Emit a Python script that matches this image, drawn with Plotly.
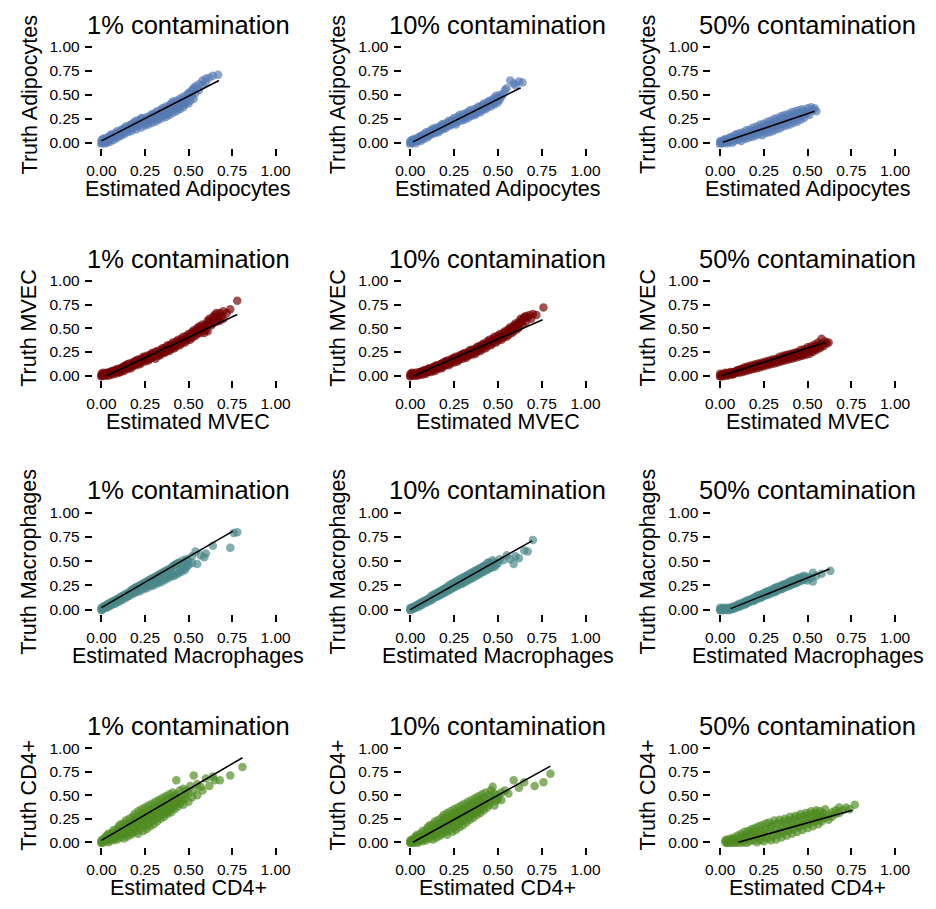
import plotly.graph_objects as go

# ---------------- data ----------------
row_cells = ["Adipocytes", "MVEC", "Macrophages", "CD4+"]
col_levels = ["1%", "10%", "50%"]
tick_vals = [0, 0.25, 0.5, 0.75, 1.0]
tick_text = ["0.00", "0.25", "0.50", "0.75", "1.00"]

# each list: (estimated, truth) points
adipo_1 = [(0,0),(0,.03),(0,-.02),(.01,.01),(.01,.04),(.02,-.01),(.02,.02),(.02,.05),(.03,.03),(.03,0),(.04,.06),(.04,.02),(.05,.04),(.05,.08),(.05,.01),(.06,.05),(.06,.09),(.07,.03),(.07,.07),(.08,.10),(.08,.06),(.09,.05),(.09,.09),(.09,.12),(.10,.08),(.10,.11),(.11,.13),(.11,.07),(.12,.10),(.12,.14),(.13,.09),(.13,.15),(.13,.12),(.14,.13),(.14,.17),(.15,.11),(.15,.16),(.16,.18),(.16,.14),(.17,.12),(.17,.19),(.17,.16),(.18,.15),(.18,.20),(.19,.17),(.19,.22),(.20,.14),(.20,.19),(.20,.23),(.21,.21),(.21,.17),(.22,.24),(.22,.19),(.23,.16),(.23,.22),(.23,.26),(.24,.20),(.24,.25),(.25,.23),(.25,.18),(.26,.27),(.26,.21),(.26,.24),(.27,.19),(.27,.25),(.28,.28),(.28,.23),(.29,.21),(.29,.26),(.29,.30),(.30,.24),(.30,.29),(.31,.31),(.31,.22),(.32,.27),(.32,.33),(.32,.25),(.33,.24),(.33,.30),(.34,.34),(.34,.28),(.35,.26),(.35,.31),(.35,.36),(.36,.29),(.36,.35),(.37,.38),(.37,.27),(.38,.32),(.38,.36),(.38,.30),(.39,.29),(.39,.39),(.40,.34),(.40,.41),(.41,.31),(.41,.37),(.41,.43),(.42,.35),(.42,.40),(.43,.44),(.43,.33),(.44,.38),(.44,.42),(.44,.36),(.45,.46),(.45,.35),(.46,.40),(.46,.44),(.47,.37),(.47,.48),(.47,.42),(.48,.45),(.48,.40),(.49,.50),(.49,.43),(.50,.47),(.50,.41),(.50,.52),(.51,.44),(.51,.53),(.52,.49),(.52,.55),(.53,.46),(.53,.57),(.54,.52),(.54,.59),(.56,.55),(.56,.61),(.58,.60),(.58,.65),(.60,.63),(.60,.67),(.62,.68),(.64,.70),(.67,.71)]
adipo_10 = [(0,0),(0,.02),(0,-.02),(.01,.03),(.01,0),(.02,.01),(.02,.04),(.03,-.01),(.03,.03),(.04,.05),(.04,.02),(.05,.03),(.05,.06),(.06,.02),(.06,.07),(.07,.05),(.07,.08),(.08,.04),(.08,.09),(.09,.07),(.09,.11),(.10,.06),(.10,.10),(.11,.12),(.11,.08),(.12,.09),(.12,.13),(.13,.11),(.13,.15),(.14,.10),(.14,.14),(.15,.12),(.15,.16),(.16,.11),(.16,.15),(.17,.17),(.17,.13),(.18,.14),(.18,.19),(.19,.16),(.19,.20),(.20,.15),(.20,.18),(.21,.21),(.21,.17),(.22,.19),(.22,.23),(.23,.18),(.23,.22),(.24,.24),(.24,.20),(.25,.21),(.25,.26),(.26,.23),(.26,.19),(.27,.27),(.27,.22),(.28,.25),(.28,.29),(.29,.23),(.29,.27),(.30,.30),(.30,.25),(.31,.28),(.31,.24),(.32,.31),(.32,.27),(.33,.26),(.33,.32),(.34,.29),(.34,.34),(.35,.28),(.35,.32),(.36,.35),(.36,.30),(.37,.33),(.37,.29),(.38,.36),(.38,.31),(.39,.34),(.39,.38),(.40,.32),(.40,.37),(.41,.39),(.41,.34),(.42,.36),(.42,.41),(.43,.35),(.43,.39),(.44,.42),(.44,.37),(.45,.40),(.45,.44),(.46,.38),(.46,.43),(.47,.45),(.47,.41),(.48,.40),(.48,.47),(.49,.44),(.49,.49),(.50,.42),(.50,.47),(.51,.50),(.51,.45),(.52,.48),(.53,.51),(.54,.55),(.55,.57),(.57,.65),(.59,.62),(.60,.60),(.62,.64),(.64,.63)]
adipo_50 = [(0,0),(0,.02),(0,-.02),(.01,.01),(.01,-.01),(.02,.03),(.02,0),(.03,.01),(.03,.04),(.04,-.01),(.04,.02),(.05,.05),(.05,.01),(.06,.03),(.06,.06),(.07,0),(.07,.04),(.08,.07),(.08,.02),(.09,.05),(.09,.09),(.10,.03),(.10,.07),(.11,.10),(.11,.05),(.12,.02),(.12,.08),(.13,.11),(.13,.06),(.14,.04),(.14,.09),(.15,.13),(.15,.07),(.16,.05),(.16,.11),(.17,.14),(.17,.08),(.18,.06),(.18,.12),(.19,.16),(.19,.10),(.20,.07),(.20,.13),(.21,.17),(.21,.11),(.22,.09),(.22,.15),(.23,.19),(.23,.12),(.24,.08),(.24,.16),(.25,.20),(.25,.13),(.26,.10),(.26,.18),(.27,.22),(.27,.15),(.28,.11),(.28,.19),(.29,.23),(.29,.16),(.30,.12),(.30,.20),(.31,.25),(.31,.17),(.32,.14),(.32,.22),(.33,.26),(.33,.19),(.34,.15),(.34,.23),(.35,.28),(.35,.20),(.36,.17),(.36,.25),(.37,.29),(.37,.21),(.38,.18),(.38,.26),(.39,.30),(.39,.23),(.40,.19),(.40,.27),(.41,.32),(.41,.24),(.42,.21),(.42,.29),(.43,.33),(.43,.25),(.44,.22),(.44,.30),(.45,.34),(.45,.27),(.46,.24),(.46,.31),(.47,.35),(.47,.28),(.48,.26),(.48,.33),(.49,.30),(.50,.36),(.50,.32),(.51,.29),(.52,.37),(.53,.34),(.54,.36),(.55,.33)]

mvec_1 = [(0,0),(0,.02),(0,-.01),(.01,.01),(.01,.03),(.02,0),(.02,.02),(.03,.01),(.03,.03),(.04,0),(.04,.03),(.05,.02),(.05,.04),(.06,.01),(.06,.05),(.07,.03),(.07,.05),(.08,.02),(.08,.06),(.09,.04),(.09,.07),(.10,.03),(.10,.06),(.11,.08),(.11,.04),(.12,.06),(.12,.09),(.13,.05),(.13,.10),(.14,.08),(.14,.11),(.15,.07),(.15,.12),(.16,.09),(.16,.13),(.17,.08),(.17,.11),(.18,.14),(.18,.10),(.19,.12),(.19,.15),(.20,.11),(.20,.16),(.21,.13),(.21,.17),(.22,.12),(.22,.15),(.23,.18),(.23,.14),(.24,.16),(.24,.20),(.25,.15),(.25,.19),(.26,.17),(.26,.21),(.27,.16),(.27,.20),(.28,.22),(.28,.18),(.29,.19),(.29,.24),(.30,.20),(.30,.23),(.31,.18),(.31,.25),(.32,.22),(.32,.26),(.33,.21),(.33,.24),(.34,.27),(.34,.22),(.35,.25),(.35,.29),(.36,.24),(.36,.28),(.37,.30),(.37,.25),(.38,.27),(.38,.32),(.39,.26),(.39,.31),(.40,.33),(.40,.28),(.41,.30),(.41,.35),(.42,.29),(.42,.33),(.43,.36),(.43,.31),(.44,.34),(.44,.38),(.45,.32),(.45,.36),(.46,.39),(.46,.34),(.47,.37),(.47,.41),(.48,.35),(.48,.39),(.49,.42),(.49,.37),(.50,.40),(.50,.44),(.51,.38),(.51,.43),(.52,.46),(.52,.40),(.53,.44),(.53,.48),(.54,.42),(.54,.47),(.55,.50),(.55,.44),(.56,.48),(.56,.52),(.57,.45),(.57,.51),(.58,.54),(.58,.48),(.59,.52),(.59,.45),(.60,.49),(.60,.54),(.61,.58),(.61,.47),(.62,.56),(.62,.60),(.63,.53),(.63,.58),(.64,.62),(.64,.55),(.65,.60),(.65,.64),(.66,.57),(.66,.66),(.67,.61),(.68,.58),(.68,.66),(.69,.63),(.70,.60),(.70,.68),(.72,.66),(.74,.70),(.78,.79)]
mvec_10 = [(0,0),(0,.02),(0,-.01),(.01,.01),(.01,.03),(.02,0),(.02,.02),(.03,.01),(.03,.03),(.04,0),(.04,.02),(.05,.01),(.05,.04),(.06,.02),(.06,.04),(.07,.01),(.07,.05),(.08,.03),(.08,.06),(.09,.02),(.09,.05),(.10,.04),(.10,.07),(.11,.05),(.11,.08),(.12,.04),(.12,.07),(.13,.06),(.13,.09),(.14,.05),(.14,.10),(.15,.08),(.15,.11),(.16,.07),(.16,.10),(.17,.09),(.17,.12),(.18,.08),(.18,.13),(.19,.10),(.19,.14),(.20,.11),(.20,.15),(.21,.12),(.21,.16),(.22,.11),(.22,.14),(.23,.17),(.23,.13),(.24,.15),(.24,.18),(.25,.14),(.25,.19),(.26,.16),(.26,.20),(.27,.15),(.27,.18),(.28,.21),(.28,.17),(.29,.19),(.29,.22),(.30,.18),(.30,.23),(.31,.20),(.31,.24),(.32,.19),(.32,.22),(.33,.25),(.33,.21),(.34,.23),(.34,.27),(.35,.22),(.35,.26),(.36,.24),(.36,.28),(.37,.23),(.37,.27),(.38,.30),(.38,.25),(.39,.28),(.39,.31),(.40,.26),(.40,.30),(.41,.33),(.41,.28),(.42,.31),(.42,.34),(.43,.29),(.43,.33),(.44,.36),(.44,.31),(.45,.34),(.45,.38),(.46,.32),(.46,.36),(.47,.39),(.47,.34),(.48,.37),(.48,.41),(.49,.35),(.49,.39),(.50,.42),(.50,.37),(.51,.40),(.51,.44),(.52,.38),(.52,.42),(.53,.45),(.53,.40),(.54,.43),(.54,.47),(.55,.41),(.55,.46),(.56,.49),(.56,.43),(.57,.47),(.57,.51),(.58,.45),(.58,.50),(.59,.53),(.59,.47),(.60,.51),(.60,.55),(.61,.49),(.61,.54),(.62,.57),(.62,.51),(.63,.56),(.63,.60),(.64,.54),(.64,.59),(.65,.62),(.66,.63),(.66,.57),(.67,.61),(.68,.64),(.69,.60),(.70,.65),(.72,.64),(.76,.72)]
mvec_50 = [(0,0),(0,.02),(0,-.01),(.01,.01),(.01,-.01),(.02,.02),(.02,0),(.03,.01),(.03,.03),(.04,.02),(.04,0),(.05,.03),(.05,.01),(.06,.02),(.06,.04),(.07,.03),(.07,.01),(.08,.04),(.08,.02),(.09,.05),(.09,.03),(.10,.04),(.10,.06),(.11,.03),(.11,.06),(.12,.05),(.12,.07),(.13,.04),(.13,.07),(.14,.06),(.14,.09),(.15,.05),(.15,.08),(.16,.07),(.16,.10),(.17,.06),(.17,.09),(.18,.08),(.18,.11),(.19,.07),(.19,.10),(.20,.09),(.20,.12),(.21,.08),(.21,.11),(.22,.10),(.22,.13),(.23,.09),(.23,.12),(.24,.11),(.24,.14),(.25,.10),(.25,.13),(.26,.12),(.26,.15),(.27,.11),(.27,.14),(.28,.13),(.28,.16),(.29,.12),(.29,.15),(.30,.14),(.30,.17),(.31,.13),(.31,.16),(.32,.15),(.32,.18),(.33,.14),(.33,.17),(.34,.16),(.34,.20),(.35,.15),(.35,.18),(.36,.17),(.36,.21),(.37,.16),(.37,.20),(.38,.18),(.38,.22),(.39,.17),(.39,.21),(.40,.19),(.40,.23),(.41,.18),(.41,.22),(.42,.20),(.42,.24),(.43,.19),(.43,.23),(.44,.21),(.44,.25),(.45,.20),(.45,.24),(.46,.22),(.46,.27),(.47,.21),(.47,.25),(.48,.23),(.48,.28),(.49,.22),(.49,.26),(.50,.25),(.50,.30),(.51,.23),(.51,.28),(.52,.26),(.52,.31),(.53,.25),(.53,.29),(.54,.28),(.54,.33),(.55,.27),(.55,.31),(.56,.30),(.56,.35),(.57,.29),(.57,.33),(.58,.32),(.58,.39),(.59,.31),(.60,.36),(.61,.34),(.62,.35)]

macro_1 = [(0,0),(0,.02),(0,-.01),(.01,.01),(.01,.03),(.02,.02),(.02,.04),(.03,.02),(.03,.05),(.04,.03),(.04,.06),(.05,.04),(.05,.07),(.06,.05),(.06,.08),(.07,.06),(.07,.09),(.08,.06),(.08,.10),(.09,.08),(.09,.11),(.10,.08),(.10,.12),(.11,.10),(.11,.13),(.12,.10),(.12,.14),(.13,.12),(.13,.15),(.14,.12),(.14,.16),(.15,.14),(.15,.17),(.16,.14),(.16,.18),(.17,.16),(.17,.20),(.18,.16),(.18,.21),(.19,.18),(.19,.22),(.20,.18),(.20,.23),(.21,.20),(.21,.24),(.22,.19),(.22,.25),(.23,.22),(.23,.26),(.24,.21),(.24,.27),(.25,.23),(.25,.28),(.26,.22),(.26,.29),(.27,.25),(.27,.30),(.28,.24),(.28,.31),(.29,.26),(.29,.32),(.30,.25),(.30,.33),(.31,.28),(.31,.34),(.32,.27),(.32,.35),(.33,.29),(.33,.36),(.34,.28),(.34,.37),(.35,.31),(.35,.38),(.36,.30),(.36,.39),(.37,.33),(.37,.40),(.38,.32),(.38,.41),(.39,.35),(.39,.42),(.40,.34),(.40,.43),(.41,.36),(.41,.45),(.42,.35),(.42,.46),(.43,.38),(.43,.47),(.44,.37),(.44,.48),(.45,.40),(.45,.49),(.46,.39),(.46,.44),(.47,.42),(.47,.51),(.48,.41),(.48,.47),(.49,.44),(.49,.52),(.50,.46),(.50,.50),(.52,.55),(.52,.48),(.54,.60),(.55,.47),(.57,.56),(.59,.54),(.60,.58),(.64,.66),(.74,.64),(.76,.79),(.78,.80)]
macro_10 = [(0,0),(0,.02),(0,-.01),(.01,.01),(.01,.02),(.02,.01),(.02,.03),(.03,.02),(.03,.04),(.04,.03),(.04,.05),(.05,.03),(.05,.06),(.06,.05),(.06,.07),(.07,.05),(.07,.08),(.08,.07),(.08,.09),(.09,.07),(.09,.10),(.10,.09),(.10,.11),(.11,.09),(.11,.12),(.12,.10),(.12,.14),(.13,.11),(.13,.15),(.14,.13),(.14,.16),(.15,.13),(.15,.17),(.16,.14),(.16,.18),(.17,.15),(.17,.19),(.18,.16),(.18,.20),(.19,.17),(.19,.21),(.20,.18),(.20,.22),(.21,.19),(.21,.23),(.22,.20),(.22,.25),(.23,.21),(.23,.26),(.24,.22),(.24,.27),(.25,.23),(.25,.28),(.26,.24),(.26,.29),(.27,.25),(.27,.30),(.28,.26),(.28,.31),(.29,.27),(.29,.32),(.30,.27),(.30,.33),(.31,.29),(.31,.34),(.32,.29),(.32,.35),(.33,.31),(.33,.36),(.34,.31),(.34,.37),(.35,.33),(.35,.38),(.36,.33),(.36,.39),(.37,.35),(.37,.40),(.38,.35),(.38,.41),(.39,.37),(.39,.42),(.40,.37),(.40,.43),(.41,.39),(.41,.44),(.42,.39),(.42,.45),(.43,.41),(.43,.46),(.44,.41),(.44,.48),(.45,.43),(.45,.49),(.46,.43),(.46,.47),(.47,.45),(.47,.51),(.48,.44),(.48,.49),(.49,.46),(.50,.48),(.51,.52),(.53,.51),(.55,.56),(.57,.52),(.59,.47),(.60,.55),(.62,.53),(.65,.61),(.67,.60),(.70,.72)]
macro_50 = [(0,0),(0,.02),(0,-.01),(.01,.01),(.01,-.01),(.02,0),(.02,.02),(.03,-.01),(.03,.01),(.04,0),(.04,.02),(.05,-.01),(.05,.01),(.06,0),(.06,.02),(.07,.01),(.07,.03),(.08,.01),(.08,.03),(.09,.02),(.09,.04),(.10,.03),(.10,.05),(.11,.03),(.11,.06),(.12,.04),(.12,.06),(.13,.05),(.13,.07),(.14,.05),(.14,.08),(.15,.06),(.15,.09),(.16,.07),(.16,.10),(.17,.08),(.17,.10),(.18,.09),(.18,.11),(.19,.09),(.19,.12),(.20,.10),(.20,.13),(.21,.11),(.21,.14),(.22,.12),(.22,.15),(.23,.12),(.23,.15),(.24,.13),(.24,.16),(.25,.14),(.25,.17),(.26,.15),(.26,.18),(.27,.15),(.27,.19),(.28,.16),(.28,.19),(.29,.17),(.29,.20),(.30,.18),(.30,.21),(.31,.18),(.31,.22),(.32,.19),(.32,.23),(.33,.20),(.33,.23),(.34,.21),(.34,.24),(.35,.21),(.35,.25),(.36,.22),(.36,.26),(.37,.23),(.37,.26),(.38,.24),(.38,.27),(.39,.24),(.39,.28),(.40,.25),(.40,.29),(.41,.26),(.41,.30),(.42,.27),(.42,.30),(.43,.27),(.43,.31),(.44,.28),(.44,.32),(.45,.29),(.45,.33),(.46,.30),(.46,.33),(.47,.30),(.47,.34),(.48,.31),(.48,.35),(.49,.32),(.50,.34),(.50,.30),(.52,.33),(.53,.38),(.53,.29),(.55,.35),(.58,.37),(.63,.40)]

cd4_1 = [(0,0),(0,.02),(0,-.01),(.01,.03),(.01,0),(.02,.05),(.02,.01),(.03,.02),(.03,.07),(.04,.04),(.04,.09),(.04,0),(.05,.06),(.05,.02),(.06,.10),(.06,.04),(.07,.07),(.07,.13),(.07,.02),(.08,.09),(.08,.05),(.09,.14),(.09,.03),(.09,.10),(.10,.07),(.10,.17),(.11,.11),(.11,.05),(.11,.19),(.12,.14),(.12,.08),(.13,.20),(.13,.04),(.13,.12),(.14,.16),(.14,.09),(.14,.23),(.15,.13),(.15,.06),(.15,.19),(.16,.25),(.16,.11),(.16,.16),(.17,.08),(.17,.21),(.17,.14),(.18,.27),(.18,.18),(.18,.10),(.19,.23),(.19,.15),(.19,.30),(.20,.12),(.20,.20),(.20,.26),(.21,.33),(.21,.17),(.21,.09),(.22,.22),(.22,.28),(.22,.14),(.23,.35),(.23,.19),(.23,.25),(.24,.12),(.24,.30),(.24,.22),(.25,.37),(.25,.17),(.25,.27),(.26,.24),(.26,.32),(.26,.14),(.27,.39),(.27,.20),(.27,.29),(.28,.26),(.28,.34),(.28,.17),(.29,.41),(.29,.23),(.29,.31),(.30,.28),(.30,.36),(.30,.19),(.31,.43),(.31,.25),(.31,.33),(.32,.30),(.32,.38),(.32,.22),(.33,.45),(.33,.28),(.33,.35),(.34,.32),(.34,.40),(.34,.25),(.35,.47),(.35,.30),(.35,.37),(.36,.34),(.36,.43),(.36,.27),(.37,.49),(.37,.32),(.37,.39),(.38,.36),(.38,.45),(.38,.30),(.39,.51),(.39,.34),(.39,.41),(.40,.38),(.40,.47),(.40,.32),(.41,.53),(.41,.37),(.41,.44),(.42,.40),(.42,.49),(.42,.35),(.43,.66),(.43,.42),(.43,.51),(.44,.38),(.44,.46),(.45,.55),(.45,.41),(.46,.48),(.46,.44),(.47,.57),(.47,.40),(.48,.51),(.48,.46),(.49,.55),(.50,.43),(.50,.52),(.51,.60),(.52,.48),(.53,.71),(.53,.56),(.55,.50),(.55,.62),(.57,.59),(.58,.55),(.60,.68),(.62,.60),(.64,.70),(.65,.66),(.68,.66),(.74,.71),(.81,.80)]
cd4_10 = [(0,0),(0,.02),(0,-.01),(.01,.02),(.01,-.01),(.02,.04),(.02,0),(.03,.01),(.03,.06),(.04,.03),(.04,.08),(.04,-.01),(.05,.05),(.05,.01),(.06,.09),(.06,.03),(.07,.06),(.07,.12),(.07,.01),(.08,.08),(.08,.04),(.09,.13),(.09,.02),(.09,.09),(.10,.06),(.10,.16),(.11,.10),(.11,.04),(.11,.18),(.12,.13),(.12,.07),(.13,.19),(.13,.03),(.13,.11),(.14,.15),(.14,.08),(.14,.22),(.15,.12),(.15,.05),(.15,.18),(.16,.24),(.16,.10),(.16,.15),(.17,.07),(.17,.20),(.17,.13),(.18,.26),(.18,.17),(.18,.09),(.19,.22),(.19,.14),(.19,.29),(.20,.11),(.20,.19),(.20,.25),(.21,.31),(.21,.16),(.21,.08),(.22,.21),(.22,.27),(.22,.13),(.23,.33),(.23,.18),(.23,.24),(.24,.11),(.24,.29),(.24,.21),(.25,.35),(.25,.16),(.25,.26),(.26,.23),(.26,.31),(.26,.13),(.27,.37),(.27,.19),(.27,.28),(.28,.25),(.28,.33),(.28,.16),(.29,.39),(.29,.22),(.29,.30),(.30,.27),(.30,.35),(.30,.18),(.31,.41),(.31,.24),(.31,.32),(.32,.29),(.32,.37),(.32,.21),(.33,.43),(.33,.26),(.33,.34),(.34,.31),(.34,.39),(.34,.24),(.35,.45),(.35,.29),(.35,.36),(.36,.33),(.36,.41),(.36,.26),(.37,.47),(.37,.31),(.37,.38),(.38,.35),(.38,.43),(.38,.29),(.39,.49),(.39,.33),(.39,.40),(.40,.37),(.40,.45),(.40,.31),(.41,.51),(.41,.36),(.41,.42),(.42,.39),(.42,.47),(.42,.34),(.43,.53),(.43,.41),(.44,.37),(.44,.45),(.45,.50),(.45,.40),(.46,.55),(.46,.43),(.47,.59),(.47,.47),(.48,.39),(.48,.52),(.49,.44),(.50,.50),(.50,.46),(.52,.45),(.52,.53),(.54,.55),(.56,.52),(.59,.66),(.62,.58),(.65,.64),(.71,.60),(.76,.64),(.80,.73)]
cd4_50 = [(.03,0),(.03,.02),(.04,-.01),(.04,.03),(.05,.01),(.05,-.02),(.06,.02),(.06,.04),(.07,0),(.07,.03),(.08,-.01),(.08,.05),(.09,.02),(.09,0),(.10,.04),(.10,.07),(.11,-.01),(.11,.02),(.12,.05),(.12,.09),(.13,0),(.13,.03),(.14,.07),(.14,.11),(.15,-.01),(.15,.04),(.16,.08),(.16,.12),(.17,.01),(.17,.05),(.18,.10),(.18,.14),(.19,.02),(.19,.07),(.20,.11),(.20,.15),(.21,0),(.21,.05),(.22,.09),(.22,.17),(.23,.02),(.23,.12),(.24,.06),(.24,.18),(.25,.01),(.25,.10),(.26,.14),(.26,.20),(.27,.04),(.27,.08),(.28,.12),(.28,.21),(.29,.02),(.29,.16),(.30,.06),(.30,.19),(.31,.10),(.31,.23),(.32,.03),(.32,.14),(.33,.08),(.33,.20),(.34,.12),(.34,.24),(.35,.05),(.35,.17),(.36,.10),(.36,.22),(.37,.14),(.37,.25),(.38,.07),(.38,.19),(.39,.12),(.39,.23),(.40,.16),(.40,.27),(.41,.09),(.41,.20),(.42,.14),(.42,.25),(.43,.18),(.43,.28),(.44,.11),(.44,.22),(.45,.16),(.45,.27),(.46,.19),(.46,.30),(.47,.13),(.47,.24),(.48,.18),(.48,.28),(.49,.21),(.49,.31),(.50,.15),(.50,.26),(.51,.20),(.51,.30),(.52,.23),(.52,.33),(.53,.17),(.53,.27),(.54,.22),(.54,.31),(.55,.25),(.55,.34),(.56,.19),(.56,.29),(.57,.24),(.57,.33),(.58,.27),(.58,.22),(.59,.31),(.60,.26),(.60,.35),(.62,.29),(.62,.24),(.64,.32),(.64,.27),(.66,.34),(.66,.30),(.68,.37),(.68,.31),(.70,.34),(.72,.37),(.74,.35),(.77,.40)]

# regression line end points: ([x_start, x_end], [y_start, y_end])
fit_lines = {
    ("Adipocytes", "1%"): ([0.00, 0.675], [0.02, 0.65]),
    ("Adipocytes", "10%"): ([0.015, 0.63], [0.01, 0.575]),
    ("Adipocytes", "50%"): ([0.015, 0.54], [0.005, 0.33]),
    ("MVEC", "1%"): ([0.03, 0.78], [0.00, 0.645]),
    ("MVEC", "10%"): ([0.02, 0.755], [0.00, 0.59]),
    ("MVEC", "50%"): ([0.01, 0.60], [0.00, 0.35]),
    ("Macrophages", "1%"): ([0.00, 0.755], [0.02, 0.81]),
    ("Macrophages", "10%"): ([0.00, 0.695], [0.00, 0.71]),
    ("Macrophages", "50%"): ([0.06, 0.625], [0.01, 0.42]),
    ("CD4+", "1%"): ([0.00, 0.81], [0.02, 0.90]),
    ("CD4+", "10%"): ([0.015, 0.80], [0.00, 0.81]),
    ("CD4+", "50%"): ([0.105, 0.755], [0.00, 0.34]),
}

points = {
    ("Adipocytes", "1%"): adipo_1, ("Adipocytes", "10%"): adipo_10, ("Adipocytes", "50%"): adipo_50,
    ("MVEC", "1%"): mvec_1, ("MVEC", "10%"): mvec_10, ("MVEC", "50%"): mvec_50,
    ("Macrophages", "1%"): macro_1, ("Macrophages", "10%"): macro_10, ("Macrophages", "50%"): macro_50,
    ("CD4+", "1%"): cd4_1, ("CD4+", "10%"): cd4_10, ("CD4+", "50%"): cd4_50,
}

# ---------------- styling ----------------
cell_colors = {
    "Adipocytes": "rgb(86,122,178)",
    "MVEC": "rgb(115,0,0)",
    "Macrophages": "rgb(72,134,136)",
    "CD4+": "rgb(78,138,32)",
}
OFF = 8                      # the page body margin (8px on every side)
W, H = 936 - 2 * OFF, 909 - 2 * OFF   # figure fits the window without scrollbars
FONT = "Liberation Sans, Arial, Helvetica, sans-serif"
TICK_SIZE = 15.5
# positions measured on the reference page (px)
col_x0 = [96.7, 410.0, 724.3]          # pixel of x = 0
col_x1 = [273.3, 587.7, 901.7]         # pixel of x = 1
row_y1 = [43.3, 279.3, 513.3, 751.0]   # pixel of y = 1
row_y0 = [140.0, 375.0, 611.0, 845.7]  # pixel of y = 0


def px(v):
    return (v - OFF) / W


def py(v):
    return 1 - (v - OFF) / H


fig = go.Figure()
annotations = []
layout_axes = {}
k = 0
for r, cell in enumerate(row_cells):
    for c, lvl in enumerate(col_levels):
        k += 1
        s = "" if k == 1 else str(k)
        x0, x1 = col_x0[c], col_x1[c]
        y0, y1 = row_y0[r], row_y1[r]
        sx, sy = x1 - x0, y0 - y1
        left, right = x0 - 0.05 * sx, x0 + 1.05 * sx
        top, bottom = y1 - 0.05 * sy, y0 + 0.05 * sy
        pts = points[(cell, lvl)]
        fig.add_trace(go.Scatter(
            x=[p[0] for p in pts], y=[p[1] for p in pts], mode="markers",
            xaxis="x" + s, yaxis="y" + s,
            marker=dict(size=8.5, color=cell_colors[cell], opacity=0.68, line=dict(width=0)),
            showlegend=False, hoverinfo="skip"))
        fx, fy = fit_lines[(cell, lvl)]
        fig.add_trace(go.Scatter(
            x=fx, y=fy, mode="lines", xaxis="x" + s, yaxis="y" + s,
            line=dict(color="black", width=1.6), showlegend=False, hoverinfo="skip"))
        common = dict(range=[-0.05, 1.05], tickmode="array", tickvals=tick_vals, ticktext=tick_text,
                      ticks="outside", ticklen=7, tickwidth=2, tickcolor="black",
                      showline=False, showgrid=False, zeroline=False, fixedrange=True,
                      tickfont=dict(family=FONT, size=TICK_SIZE, color="black"))
        layout_axes["xaxis" + s] = dict(common, domain=[px(left), px(right)], anchor="y" + s,
                                        ticklabelstandoff=2)
        layout_axes["yaxis" + s] = dict(common, domain=[py(bottom), py(top)], anchor="x" + s,
                                        ticklabelstandoff=2)
        cx = (left + right) / 2
        annotations.append(dict(text=f"{lvl} contamination", x=px(cx), y=py(y1 - 22.5),
                                xref="paper", yref="paper", showarrow=False,
                                xanchor="center", yanchor="middle",
                                font=dict(family=FONT, size=25.5, color="black")))
        annotations.append(dict(text=f"Estimated {cell}", x=px(cx), y=py(y0 + 46.5),
                                xref="paper", yref="paper", showarrow=False,
                                xanchor="center", yanchor="middle", borderpad=0,
                                font=dict(family=FONT, size=21.5, color="black")))
        annotations.append(dict(text=f"Truth {cell}", x=px(x0 - 73), y=py((y0 + y1) / 2),
                                xref="paper", yref="paper", showarrow=False, textangle=-90,
                                xanchor="center", yanchor="middle", borderpad=0,
                                font=dict(family=FONT, size=21.5, color="black")))

fig.update_layout(width=W, height=H, margin=dict(l=0, r=0, t=0, b=0),
                  font=dict(family=FONT, size=TICK_SIZE, color="black"),
                  paper_bgcolor="white", plot_bgcolor="white",
                  annotations=annotations, **layout_axes)
fig.write_html("out.html")
